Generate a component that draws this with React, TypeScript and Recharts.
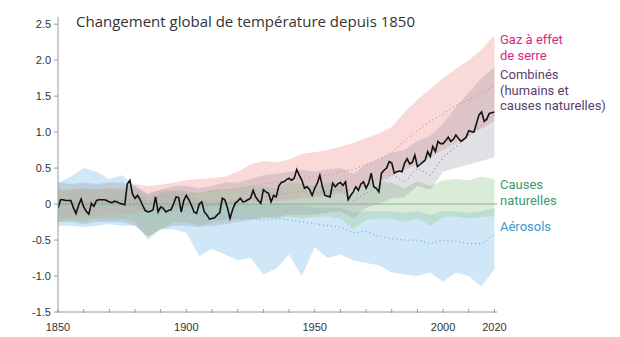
import {
  ComposedChart,
  Area,
  Line,
  XAxis,
  YAxis,
  ReferenceLine,
} from 'recharts';

// années des bandes (pas de 5 ans)
const bandYears = [
  1850, 1855, 1860, 1865, 1870, 1875, 1880, 1885, 1890, 1895, 1900, 1905, 1910, 1915, 1920, 1925, 1930,
  1935, 1940, 1945, 1950, 1955, 1960, 1965, 1970, 1975, 1980, 1985, 1990, 1995, 2000, 2005, 2010, 2015, 2020,
];

const ghgLow = [
  -0.2, -0.2, -0.18, -0.17, -0.15, -0.15, -0.12, -0.1, -0.08, -0.06, -0.05, -0.04, -0.02, 0.0, 0.0, 0.02, 0.03,
  0.04, 0.05, 0.08, 0.1, 0.12, 0.15, 0.2, 0.25, 0.32, 0.4, 0.48, 0.55, 0.65, 0.75, 0.85, 0.95, 1.05, 1.15,
];
const ghgHigh = [
  0.2, 0.2, 0.22, 0.2, 0.22, 0.22, 0.28, 0.25, 0.27, 0.3, 0.33, 0.35, 0.36, 0.38, 0.45, 0.55, 0.6,
  0.58, 0.62, 0.7, 0.72, 0.75, 0.8, 0.85, 0.92, 0.98, 1.07, 1.28, 1.45, 1.6, 1.75, 1.88, 2.0, 2.15, 2.35,
];
const ghgMid = [
  0.0, 0.02, 0.03, 0.04, 0.05, 0.06, 0.08, 0.09, 0.1, 0.12, 0.14, 0.15, 0.18, 0.2, 0.22, 0.25, 0.28,
  0.3, 0.33, 0.36, 0.38, 0.4, 0.45, 0.48, 0.55, 0.62, 0.72, 0.88, 1.02, 1.15, 1.25, 1.37, 1.45, 1.55, 1.65,
];

const combLow = [
  -0.25, -0.25, -0.28, -0.25, -0.25, -0.25, -0.3, -0.45, -0.35, -0.3, -0.3, -0.32, -0.3, -0.28, -0.25, -0.22, -0.2,
  -0.18, -0.15, -0.15, -0.15, -0.12, -0.1, -0.2, -0.05, 0.0, 0.08, 0.1, 0.25, 0.2, 0.45, 0.5, 0.55, 0.6, 0.65,
];
const combHigh = [
  0.3, 0.28, 0.3, 0.28, 0.3, 0.3, 0.25, 0.15, 0.2, 0.25, 0.25, 0.22, 0.25, 0.3, 0.3, 0.35, 0.4,
  0.42, 0.45, 0.48, 0.45, 0.48, 0.5, 0.42, 0.55, 0.62, 0.72, 0.75, 0.88, 0.95, 1.12, 1.35, 1.55, 1.75, 1.9,
];
const combMid = [
  0.0, 0.02, 0.0, 0.02, 0.03, 0.05, 0.05, -0.12, -0.05, -0.02, 0.0, -0.05, -0.02, 0.0, 0.05, 0.08, 0.1,
  0.13, 0.15, 0.18, 0.15, 0.18, 0.2, 0.05, 0.15, 0.25, 0.42, 0.3, 0.5, 0.4, 0.65, 0.8, 0.95, 1.1, 1.25,
];

const natLow = [
  -0.25, -0.22, -0.25, -0.2, -0.22, -0.2, -0.25, -0.5, -0.35, -0.25, -0.25, -0.3, -0.25, -0.22, -0.2, -0.2, -0.18,
  -0.2, -0.18, -0.2, -0.18, -0.17, -0.2, -0.35, -0.22, -0.2, -0.2, -0.25, -0.2, -0.3, -0.18, -0.17, -0.2, -0.18, -0.17,
];
const natHigh = [
  0.2, 0.2, 0.22, 0.2, 0.22, 0.2, 0.2, 0.05, 0.15, 0.2, 0.18, 0.15, 0.2, 0.2, 0.22, 0.25, 0.25,
  0.22, 0.3, 0.28, 0.25, 0.3, 0.3, 0.15, 0.28, 0.3, 0.3, 0.22, 0.32, 0.25, 0.33, 0.35, 0.33, 0.38, 0.35,
];

const aerLow = [
  -0.3, -0.3, -0.32, -0.3, -0.28, -0.3, -0.3, -0.45, -0.35, -0.35, -0.4, -0.72, -0.62, -0.7, -0.78, -0.75, -0.98,
  -0.9, -0.7, -1.0, -0.6, -0.75, -0.7, -0.78, -0.82, -0.85, -0.95, -0.98, -1.0, -0.95, -1.08, -0.95, -1.0, -1.15, -0.9,
];
const aerHigh = [
  0.3, 0.38, 0.5, 0.45, 0.35, 0.4, 0.25, 0.12, 0.2, 0.18, 0.15, 0.05, 0.05, 0.05, 0.02, 0.0, 0.0,
  0.0, -0.02, -0.02, -0.05, -0.05, -0.05, -0.12, -0.1, -0.1, -0.1, -0.12, -0.1, -0.15, -0.1, -0.1, -0.12, -0.1, -0.05,
];
const aerMid = [
  0.0, 0.0, -0.02, 0.0, 0.0, -0.02, -0.02, -0.1, -0.08, -0.08, -0.1, -0.15, -0.17, -0.17, -0.2, -0.2, -0.22,
  -0.2, -0.22, -0.25, -0.27, -0.3, -0.32, -0.4, -0.38, -0.45, -0.48, -0.5, -0.5, -0.55, -0.5, -0.52, -0.55, -0.55, -0.42,
];

// observations annuelles, 1850 -> 2020
const observed = [
  -0.06, 0.06, 0.06, 0.05, 0.05, 0.05, -0.05, -0.13, -0.02, 0.07,
  -0.04, -0.1, -0.14, 0.01, -0.03, 0.05, 0.06, 0.06, 0.06, 0.05,
  0.03, 0.02, 0.04, 0.03, 0.01, 0.0, -0.01, 0.28, 0.33, 0.14,
  0.08, 0.12, 0.06, -0.02, -0.09, -0.11, -0.1, -0.08, 0.1, -0.11,
  -0.04, -0.06, -0.11, -0.09, -0.08, 0.0, 0.1, 0.09, -0.11, 0.05,
  0.12, 0.06, -0.02, -0.11, -0.13, 0.0, 0.03, -0.11, -0.15, -0.21,
  -0.2, -0.19, -0.15, -0.12, 0.08, 0.06, -0.05, -0.2, -0.08, 0.01,
  0.04, 0.08, 0.03, 0.04, 0.06, 0.08, 0.19, 0.1, 0.05, 0.01,
  0.2, 0.17, 0.15, 0.03, 0.12, 0.1, 0.25, 0.3, 0.31, 0.34,
  0.36, 0.33, 0.36, 0.48, 0.4, 0.33, 0.22, 0.24, 0.2, 0.12,
  0.22, 0.29, 0.4, 0.24, 0.12, 0.11, 0.1, 0.29, 0.24, 0.28,
  0.3, 0.26, 0.31, 0.06, 0.12, 0.17, 0.24, 0.19, 0.28, 0.31,
  0.22, 0.29, 0.43, 0.24, 0.22, 0.17, 0.43, 0.47, 0.5, 0.59,
  0.57, 0.43, 0.45, 0.46, 0.45, 0.57, 0.63, 0.56, 0.58, 0.68,
  0.52, 0.55, 0.58, 0.61, 0.73, 0.66, 0.8, 0.73, 0.87, 0.84,
  0.84, 0.88, 0.93, 0.87, 0.9, 0.96, 0.91, 0.87, 0.9, 0.93,
  1.02, 1.01, 1.0, 1.12, 1.24, 1.28, 1.15, 1.18, 1.26, 1.27,
  1.28,
];

const yTicks = [-1.5, -1.0, -0.5, 0, 0.5, 1.0, 1.5, 2.0, 2.5];
const xTicks = [
  1850, 1860, 1870, 1880, 1890, 1900, 1910, 1920, 1930, 1940, 1950, 1960, 1970, 1980, 1990, 2000, 2010, 2020,
];
const xLabels = [1850, 1900, 1950, 2000, 2020];

const bandData = bandYears.map((year, i) => ({
  year,
  ghg: [ghgLow[i], ghgHigh[i]],
  ghgMid: ghgMid[i],
  comb: [combLow[i], combHigh[i]],
  combMid: combMid[i],
  nat: [natLow[i], natHigh[i]],
  aer: [aerLow[i], aerHigh[i]],
  aerMid: aerMid[i],
}));

const obsData = observed.map((value, i) => ({ year: 1850 + i, value }));

const XTick = (props: any) => {
  const { x, y, payload } = props;
  const show = xLabels.includes(payload.value);
  return (
    <g>
      <line x1={x} x2={x} y1={y - 3} y2={y + 1} stroke="#9a9a9a" />
      {show && (
        <text x={x} y={y + 19} textAnchor="middle" fontSize={11} fill="#333" fontFamily="Liberation Sans, Arial">
          {payload.value}
        </text>
      )}
    </g>
  );
};

const labelStyle = {
  position: 'absolute' as const,
  left: 500,
  fontFamily: 'Roboto, "Open Sans", sans-serif',
  fontSize: 13,
  lineHeight: '15.5px',
  whiteSpace: 'nowrap' as const,
};

const App = () => {
  return (
    <div style={{ position: 'absolute', left: 0, top: 0, width: 620, height: 337, background: '#fff' }}>
      <ComposedChart width={620} height={337} margin={{ top: 17, right: 123, bottom: 0, left: 0 }}>
        <XAxis
          dataKey="year"
          type="number"
          domain={[1850, 2021]}
          ticks={xTicks}
          interval={0}
          tick={<XTick />}
          tickSize={0}
          tickMargin={0}
          tickLine={false}
          height={25}
          stroke="#9a9a9a"
          allowDataOverflow
        />
        <YAxis
          type="number"
          domain={[-1.5, 2.6]}
          ticks={yTicks}
          interval={0}
          width={58}
          tickSize={4}
          tickMargin={3}
          stroke="#9a9a9a"
          tick={{ fontSize: 11, fill: '#333', fontFamily: 'Liberation Sans, Arial' }}
          tickFormatter={(v: number) => (v === 0 ? '0' : v.toFixed(1))}
          allowDataOverflow
        />
        <Area
          data={bandData}
          dataKey="aer"
          type="linear"
          stroke="none"
          fill="#a8d4ee"
          fillOpacity={0.55}
          isAnimationActive={false}
        />
        <Area
          data={bandData}
          dataKey="ghg"
          type="linear"
          stroke="none"
          fill="#f5b3b3"
          fillOpacity={0.5}
          isAnimationActive={false}
        />
        <Area
          data={bandData}
          dataKey="nat"
          type="linear"
          stroke="none"
          fill="#9fd09a"
          fillOpacity={0.4}
          isAnimationActive={false}
        />
        <Area
          data={bandData}
          dataKey="comb"
          type="linear"
          stroke="none"
          fill="#8f8c9c"
          fillOpacity={0.27}
          isAnimationActive={false}
        />
        <Line
          data={bandData}
          dataKey="ghgMid"
          type="linear"
          stroke="#d88e8e"
          strokeWidth={1.2}
          strokeDasharray="1 3"
          dot={false}
          isAnimationActive={false}
        />
        <Line
          data={bandData}
          dataKey="aerMid"
          type="linear"
          stroke="#6ab0dc"
          strokeWidth={1.2}
          strokeDasharray="1 3"
          dot={false}
          isAnimationActive={false}
        />
        <Line
          data={bandData}
          dataKey="combMid"
          type="linear"
          stroke="#9a98a8"
          strokeWidth={1.2}
          strokeDasharray="1 3"
          dot={false}
          isAnimationActive={false}
        />
        <ReferenceLine y={0} stroke="#8fae95" strokeWidth={1} />
        <Line
          data={obsData}
          dataKey="value"
          type="linear"
          stroke="#111"
          strokeWidth={1.6}
          dot={false}
          isAnimationActive={false}
        />
      </ComposedChart>
      <div
        style={{
          position: 'absolute',
          left: 76,
          top: 11,
          fontFamily: '"Open Sans", "Noto Sans", sans-serif',
          fontSize: 15,
          color: '#333',
          whiteSpace: 'nowrap',
        }}
      >
        Changement global de température depuis 1850
      </div>
      <div style={{ ...labelStyle, top: 32, color: '#d6287f' }}>
        Gaz à effet
        <br />
        de serre
      </div>
      <div style={{ ...labelStyle, top: 67, color: '#5c3d6e' }}>
        Combinés
        <br />
        (humains et
        <br />
        causes naturelles)
      </div>
      <div style={{ ...labelStyle, top: 177, color: '#3a9a6e' }}>
        Causes
        <br />
        naturelles
      </div>
      <div style={{ ...labelStyle, top: 219, color: '#3a9ad0' }}>Aérosols</div>
    </div>
  );
};

export default App;
